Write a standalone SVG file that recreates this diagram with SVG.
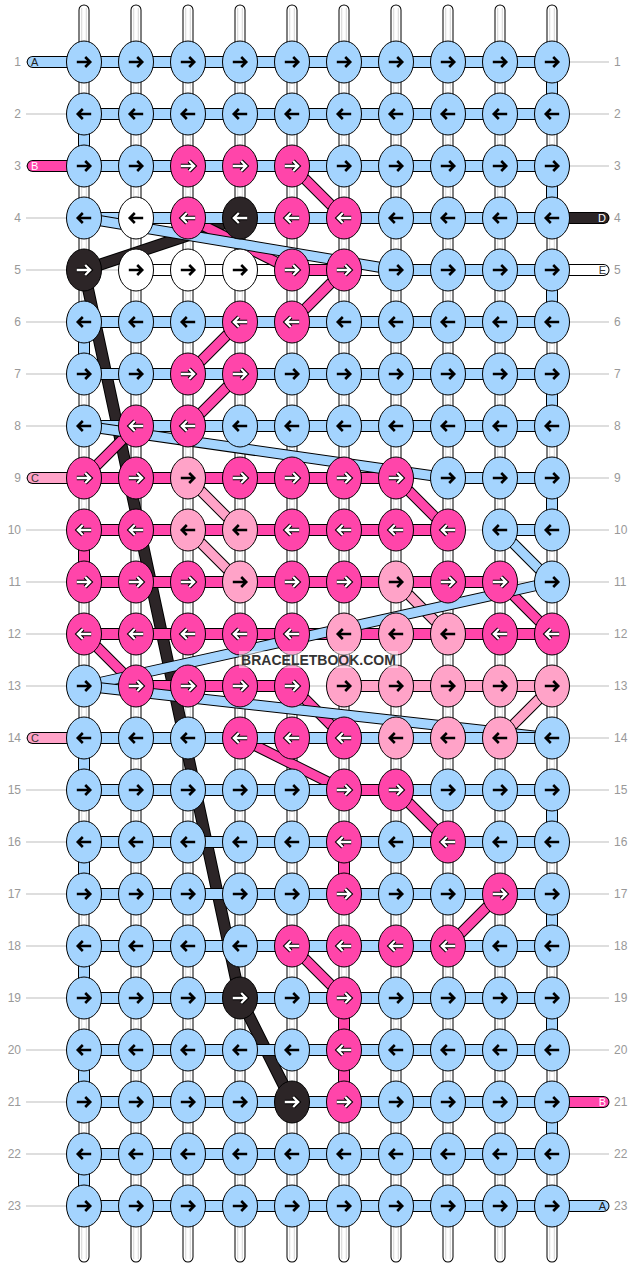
<svg xmlns="http://www.w3.org/2000/svg" xmlns:xlink="http://www.w3.org/1999/xlink" width="636" height="1268" viewBox="0 0 636 1268">
<style>
.gl{fill:none;stroke:#bdbdbd;stroke-width:1}
.w1{fill:none;stroke:#000;stroke-width:11;stroke-linecap:round}
.w2{fill:none;stroke:#fff;stroke-width:9;stroke-linecap:round}
.w3{fill:none;stroke:#d2d2d2;stroke-width:5.4}
.w4{fill:none;stroke:#fff;stroke-width:3.6}
.t{fill:none;stroke-linecap:round;stroke-linejoin:round}
.o{stroke:#000;stroke-width:12}
.cA{stroke:#A4D4FE;stroke-width:10}
.cB{stroke:#FF45AA;stroke-width:10}
.cC{stroke:#FFA3C8;stroke-width:10}
.cD{stroke:#2C2527;stroke-width:10}
.cE{stroke:#fff;stroke-width:10}
.o.dg{stroke-width:11}
.dg.cA,.dg.cB,.dg.cC{stroke-width:9}
.kb{fill:#A4D4FE;stroke:#000;stroke-width:1}
.kp{fill:#FF45AA;stroke:#000;stroke-width:1}
.kl{fill:#FFA3C8;stroke:#000;stroke-width:1}
.kw{fill:#fff;stroke:#000;stroke-width:1}
.kd{fill:#2C2527;stroke:#000;stroke-width:1}
.ak{fill:none;stroke:#000;stroke-width:2.6}
.ao{fill:none;stroke:#000;stroke-width:4.4}
.aw{fill:none;stroke:#fff;stroke-width:2.3}
.n{font-family:"Liberation Sans",Arial,sans-serif;font-size:12px;fill:#999}
.sl{font-family:"Liberation Sans",Arial,sans-serif;font-size:11px}
</style>
<defs>
<path id="ar" fill="none" d="M-7.2 0H5.5M1.2-5L6.2 0 1.2 5"/>
<ellipse id="el" rx="17.5" ry="21"/>
<g id="bR"><use href="#el" class="kb"/><use href="#ar" class="ak"/></g>
<g id="bL"><use href="#el" class="kb"/><use href="#ar" class="ak" transform="scale(-1 1)"/></g>
<g id="wR"><use href="#el" class="kw"/><use href="#ar" class="ak"/></g>
<g id="wL"><use href="#el" class="kw"/><use href="#ar" class="ak" transform="scale(-1 1)"/></g>
<g id="lR"><use href="#el" class="kl"/><use href="#ar" class="ak"/></g>
<g id="lL"><use href="#el" class="kl"/><use href="#ar" class="ak" transform="scale(-1 1)"/></g>
<g id="pR"><use href="#el" class="kp"/><use href="#ar" class="ao"/><use href="#ar" class="aw"/></g>
<g id="pL"><use href="#el" class="kp"/><g transform="scale(-1 1)"><use href="#ar" class="ao"/><use href="#ar" class="aw"/></g></g>
<g id="dR"><use href="#el" class="kd"/><use href="#ar" class="ao"/><use href="#ar" class="aw"/></g>
<g id="dL"><use href="#el" class="kd"/><g transform="scale(-1 1)"><use href="#ar" class="ao"/><use href="#ar" class="aw"/></g></g>
</defs>
<rect width="636" height="1268" fill="#fff"/>
<g id="guides">
<path class="gl" d="M26 62H609M26 114H609M26 166H609M26 218H609M26 270H609M26 322H609M26 374H609M26 426H609M26 478H609M26 530H609M26 582H609M26 634H609M26 686H609M26 738H609M26 790H609M26 842H609M26 894H609M26 946H609M26 998H609M26 1050H609M26 1102H609M26 1154H609M26 1206H609"/>
</g>
<g id="warp">
<path class="w1" d="M84 10V1257M136 10V1257M188 10V1257M240 10V1257M292 10V1257M344 10V1257M396 10V1257M448 10V1257M500 10V1257M552 10V1257"/>
<path class="w2" d="M84 10V1257M136 10V1257M188 10V1257M240 10V1257M292 10V1257M344 10V1257M396 10V1257M448 10V1257M500 10V1257M552 10V1257"/>
<path class="w3" d="M84 8V1259M136 8V1259M188 8V1259M240 8V1259M292 8V1259M344 8V1259M396 8V1259M448 8V1259M500 8V1259M552 8V1259"/>
<path class="w4" d="M84 6V1261M136 6V1261M188 6V1261M240 6V1261M292 6V1261M344 6V1261M396 6V1261M448 6V1261M500 6V1261M552 6V1261"/>
</g>
<g id="connectors">
<g id="threadE">
<path class="t o" d="M136 270H603.5"/><path class="t cE" d="M136 270H603.5"/>
</g>
<g id="threadD">
<path class="t o" d="M603.5 218H240"/><path class="t cD" d="M603.5 218H240"/>
<path class="t o" d="M240 218L84 270L240 998L292 1102"/><path class="t cD" d="M240 218L84 270L240 998L292 1102"/>
</g>
<g id="threadC">
<path class="t o" d="M32.7 478H188"/><path class="t cC" d="M32.7 478H188"/>
<path class="t o dg" d="M188 478L240 530"/><path class="t cC dg" d="M188 478L240 530"/>
<path class="t o" d="M240 530H188"/><path class="t cC" d="M240 530H188"/>
<path class="t o dg" d="M188 530L240 582"/><path class="t cC dg" d="M188 530L240 582"/>
<path class="t o" d="M240 582H396"/><path class="t cC" d="M240 582H396"/>
<path class="t o dg" d="M396 582L448 634"/><path class="t cC dg" d="M396 582L448 634"/>
<path class="t o" d="M448 634H344V686H552"/><path class="t cC" d="M448 634H344V686H552"/>
<path class="t o dg" d="M552 686L500 738"/><path class="t cC dg" d="M552 686L500 738"/>
<path class="t o" d="M500 738H32.7"/><path class="t cC" d="M500 738H32.7"/>
</g>
<g id="threadB">
<path class="t o" d="M32.7 166H292"/><path class="t cB" d="M32.7 166H292"/>
<path class="t o dg" d="M292 166L344 218"/><path class="t cB dg" d="M292 166L344 218"/>
<path class="t o" d="M344 218H188"/><path class="t cB" d="M344 218H188"/>
<path class="t o dg" d="M188 218L292 270"/><path class="t cB dg" d="M188 218L292 270"/>
<path class="t o" d="M292 270H344"/><path class="t cB" d="M292 270H344"/>
<path class="t o dg" d="M344 270L292 322"/><path class="t cB dg" d="M344 270L292 322"/>
<path class="t o" d="M292 322H240"/><path class="t cB" d="M292 322H240"/>
<path class="t o dg" d="M240 322L188 374"/><path class="t cB dg" d="M240 322L188 374"/>
<path class="t o" d="M188 374H240"/><path class="t cB" d="M188 374H240"/>
<path class="t o dg" d="M240 374L188 426"/><path class="t cB dg" d="M240 374L188 426"/>
<path class="t o" d="M188 426H136"/><path class="t cB" d="M188 426H136"/>
<path class="t o dg" d="M136 426L84 478"/><path class="t cB dg" d="M136 426L84 478"/>
<path class="t o" d="M84 478H396"/><path class="t cB" d="M84 478H396"/>
<path class="t o dg" d="M396 478L448 530"/><path class="t cB dg" d="M396 478L448 530"/>
<path class="t o" d="M448 530H84V582H500"/><path class="t cB" d="M448 530H84V582H500"/>
<path class="t o dg" d="M500 582L552 634"/><path class="t cB dg" d="M500 582L552 634"/>
<path class="t o" d="M552 634H84"/><path class="t cB" d="M552 634H84"/>
<path class="t o dg" d="M84 634L136 686"/><path class="t cB dg" d="M84 634L136 686"/>
<path class="t o" d="M136 686H292"/><path class="t cB" d="M136 686H292"/>
<path class="t o dg" d="M292 686L344 738"/><path class="t cB dg" d="M292 686L344 738"/>
<path class="t o" d="M344 738H240"/><path class="t cB" d="M344 738H240"/>
<path class="t o dg" d="M240 738L344 790"/><path class="t cB dg" d="M240 738L344 790"/>
<path class="t o dg" d="M396 790L448 842"/><path class="t cB dg" d="M396 790L448 842"/>
<path class="t o" d="M448 842H344V894H500"/><path class="t cB" d="M448 842H344V894H500"/>
<path class="t o dg" d="M500 894L448 946"/><path class="t cB dg" d="M500 894L448 946"/>
<path class="t o" d="M448 946H292"/><path class="t cB" d="M448 946H292"/>
<path class="t o dg" d="M292 946L344 998"/><path class="t cB dg" d="M292 946L344 998"/>
<path class="t o" d="M344 998V1102H603.5"/><path class="t cB" d="M344 998V1102H603.5"/>
</g>
<g id="threadA">
<path class="t o" d="M32.7 62H552V114H84V166H552V218H84"/><path class="t cA" d="M32.7 62H552V114H84V166H552V218H84"/>
<path class="t o dg" d="M84 218L396 270"/><path class="t cA dg" d="M84 218L396 270"/>
<path class="t o" d="M396 270H552V322H84V374H552V426H84"/><path class="t cA" d="M396 270H552V322H84V374H552V426H84"/>
<path class="t o dg" d="M84 426L448 478"/><path class="t cA dg" d="M84 426L448 478"/>
<path class="t o" d="M448 478H552V530H500"/><path class="t cA" d="M448 478H552V530H500"/>
<path class="t o dg" d="M500 530L552 582"/><path class="t cA dg" d="M500 530L552 582"/>
<path class="t o dg" d="M552 582L84 686"/><path class="t cA dg" d="M552 582L84 686"/>
<path class="t o dg" d="M84 686L552 738"/><path class="t cA dg" d="M84 686L552 738"/>
<path class="t o" d="M552 738H84V790H552V842H84V894H552V946H84V998H552V1050H84V1102H552V1154H84V1206H603.5"/><path class="t cA" d="M552 738H84V790H552V842H84V894H552V946H84V998H552V1050H84V1102H552V1154H84V1206H603.5"/>
</g>
<g id="threadB-top">
<path class="t o" d="M344 790H396"/><path class="t cB" d="M344 790H396"/>
</g>
</g>
<g id="stub-labels">
<text class="sl" x="31" y="66" fill="#222">A</text>
<text class="sl" x="31" y="170" fill="#fff">B</text>
<text class="sl" x="31" y="482" fill="#333">C</text>
<text class="sl" x="31" y="742" fill="#333">C</text>
<text class="sl" x="606" y="222" fill="#fff" text-anchor="end">D</text>
<text class="sl" x="606" y="274" fill="#333" text-anchor="end">E</text>
<text class="sl" x="606" y="1106" fill="#fff" text-anchor="end">B</text>
<text class="sl" x="606" y="1210" fill="#222" text-anchor="end">A</text>
</g>
<g id="row-numbers-left" class="n" text-anchor="end">
<text x="21" y="66">1</text><text x="21" y="118">2</text><text x="21" y="170">3</text><text x="21" y="222">4</text><text x="21" y="274">5</text><text x="21" y="326">6</text><text x="21" y="378">7</text><text x="21" y="430">8</text><text x="21" y="482">9</text><text x="21" y="534">10</text><text x="21" y="586">11</text><text x="21" y="638">12</text><text x="21" y="690">13</text><text x="21" y="742">14</text><text x="21" y="794">15</text><text x="21" y="846">16</text><text x="21" y="898">17</text><text x="21" y="950">18</text><text x="21" y="1002">19</text><text x="21" y="1054">20</text><text x="21" y="1106">21</text><text x="21" y="1158">22</text><text x="21" y="1210">23</text>
</g>
<g id="row-numbers-right" class="n">
<text x="614" y="66">1</text><text x="614" y="118">2</text><text x="614" y="170">3</text><text x="614" y="222">4</text><text x="614" y="274">5</text><text x="614" y="326">6</text><text x="614" y="378">7</text><text x="614" y="430">8</text><text x="614" y="482">9</text><text x="614" y="534">10</text><text x="614" y="586">11</text><text x="614" y="638">12</text><text x="614" y="690">13</text><text x="614" y="742">14</text><text x="614" y="794">15</text><text x="614" y="846">16</text><text x="614" y="898">17</text><text x="614" y="950">18</text><text x="614" y="1002">19</text><text x="614" y="1054">20</text><text x="614" y="1106">21</text><text x="614" y="1158">22</text><text x="614" y="1210">23</text>
</g>
<g id="knots">
<g id="k1-1"><use href="#bR" x="84" y="62"/></g><g id="k1-2"><use href="#bR" x="136" y="62"/></g><g id="k1-3"><use href="#bR" x="188" y="62"/></g><g id="k1-4"><use href="#bR" x="240" y="62"/></g><g id="k1-5"><use href="#bR" x="292" y="62"/></g><g id="k1-6"><use href="#bR" x="344" y="62"/></g><g id="k1-7"><use href="#bR" x="396" y="62"/></g><g id="k1-8"><use href="#bR" x="448" y="62"/></g><g id="k1-9"><use href="#bR" x="500" y="62"/></g><g id="k1-10"><use href="#bR" x="552" y="62"/></g>
<g id="k2-1"><use href="#bL" x="84" y="114"/></g><g id="k2-2"><use href="#bL" x="136" y="114"/></g><g id="k2-3"><use href="#bL" x="188" y="114"/></g><g id="k2-4"><use href="#bL" x="240" y="114"/></g><g id="k2-5"><use href="#bL" x="292" y="114"/></g><g id="k2-6"><use href="#bL" x="344" y="114"/></g><g id="k2-7"><use href="#bL" x="396" y="114"/></g><g id="k2-8"><use href="#bL" x="448" y="114"/></g><g id="k2-9"><use href="#bL" x="500" y="114"/></g><g id="k2-10"><use href="#bL" x="552" y="114"/></g>
<g id="k3-1"><use href="#bR" x="84" y="166"/></g><g id="k3-2"><use href="#bR" x="136" y="166"/></g><g id="k3-3"><use href="#pR" x="188" y="166"/></g><g id="k3-4"><use href="#pR" x="240" y="166"/></g><g id="k3-5"><use href="#pR" x="292" y="166"/></g><g id="k3-6"><use href="#bR" x="344" y="166"/></g><g id="k3-7"><use href="#bR" x="396" y="166"/></g><g id="k3-8"><use href="#bR" x="448" y="166"/></g><g id="k3-9"><use href="#bR" x="500" y="166"/></g><g id="k3-10"><use href="#bR" x="552" y="166"/></g>
<g id="k4-1"><use href="#bL" x="84" y="218"/></g><g id="k4-2"><use href="#wL" x="136" y="218"/></g><g id="k4-3"><use href="#pL" x="188" y="218"/></g><g id="k4-4"><use href="#dL" x="240" y="218"/></g><g id="k4-5"><use href="#pL" x="292" y="218"/></g><g id="k4-6"><use href="#pL" x="344" y="218"/></g><g id="k4-7"><use href="#bL" x="396" y="218"/></g><g id="k4-8"><use href="#bL" x="448" y="218"/></g><g id="k4-9"><use href="#bL" x="500" y="218"/></g><g id="k4-10"><use href="#bL" x="552" y="218"/></g>
<g id="k5-1"><use href="#dR" x="84" y="270"/></g><g id="k5-2"><use href="#wR" x="136" y="270"/></g><g id="k5-3"><use href="#wR" x="188" y="270"/></g><g id="k5-4"><use href="#wR" x="240" y="270"/></g><g id="k5-5"><use href="#pR" x="292" y="270"/></g><g id="k5-6"><use href="#pR" x="344" y="270"/></g><g id="k5-7"><use href="#bR" x="396" y="270"/></g><g id="k5-8"><use href="#bR" x="448" y="270"/></g><g id="k5-9"><use href="#bR" x="500" y="270"/></g><g id="k5-10"><use href="#bR" x="552" y="270"/></g>
<g id="k6-1"><use href="#bL" x="84" y="322"/></g><g id="k6-2"><use href="#bL" x="136" y="322"/></g><g id="k6-3"><use href="#bL" x="188" y="322"/></g><g id="k6-4"><use href="#pL" x="240" y="322"/></g><g id="k6-5"><use href="#pL" x="292" y="322"/></g><g id="k6-6"><use href="#bL" x="344" y="322"/></g><g id="k6-7"><use href="#bL" x="396" y="322"/></g><g id="k6-8"><use href="#bL" x="448" y="322"/></g><g id="k6-9"><use href="#bL" x="500" y="322"/></g><g id="k6-10"><use href="#bL" x="552" y="322"/></g>
<g id="k7-1"><use href="#bR" x="84" y="374"/></g><g id="k7-2"><use href="#bR" x="136" y="374"/></g><g id="k7-3"><use href="#pR" x="188" y="374"/></g><g id="k7-4"><use href="#pR" x="240" y="374"/></g><g id="k7-5"><use href="#bR" x="292" y="374"/></g><g id="k7-6"><use href="#bR" x="344" y="374"/></g><g id="k7-7"><use href="#bR" x="396" y="374"/></g><g id="k7-8"><use href="#bR" x="448" y="374"/></g><g id="k7-9"><use href="#bR" x="500" y="374"/></g><g id="k7-10"><use href="#bR" x="552" y="374"/></g>
<g id="k8-1"><use href="#bL" x="84" y="426"/></g><g id="k8-2"><use href="#pL" x="136" y="426"/></g><g id="k8-3"><use href="#pL" x="188" y="426"/></g><g id="k8-4"><use href="#bL" x="240" y="426"/></g><g id="k8-5"><use href="#bL" x="292" y="426"/></g><g id="k8-6"><use href="#bL" x="344" y="426"/></g><g id="k8-7"><use href="#bL" x="396" y="426"/></g><g id="k8-8"><use href="#bL" x="448" y="426"/></g><g id="k8-9"><use href="#bL" x="500" y="426"/></g><g id="k8-10"><use href="#bL" x="552" y="426"/></g>
<g id="k9-1"><use href="#pR" x="84" y="478"/></g><g id="k9-2"><use href="#pR" x="136" y="478"/></g><g id="k9-3"><use href="#lR" x="188" y="478"/></g><g id="k9-4"><use href="#pR" x="240" y="478"/></g><g id="k9-5"><use href="#pR" x="292" y="478"/></g><g id="k9-6"><use href="#pR" x="344" y="478"/></g><g id="k9-7"><use href="#pR" x="396" y="478"/></g><g id="k9-8"><use href="#bR" x="448" y="478"/></g><g id="k9-9"><use href="#bR" x="500" y="478"/></g><g id="k9-10"><use href="#bR" x="552" y="478"/></g>
<g id="k10-1"><use href="#pL" x="84" y="530"/></g><g id="k10-2"><use href="#pL" x="136" y="530"/></g><g id="k10-3"><use href="#lL" x="188" y="530"/></g><g id="k10-4"><use href="#lL" x="240" y="530"/></g><g id="k10-5"><use href="#pL" x="292" y="530"/></g><g id="k10-6"><use href="#pL" x="344" y="530"/></g><g id="k10-7"><use href="#pL" x="396" y="530"/></g><g id="k10-8"><use href="#pL" x="448" y="530"/></g><g id="k10-9"><use href="#bL" x="500" y="530"/></g><g id="k10-10"><use href="#bL" x="552" y="530"/></g>
<g id="k11-1"><use href="#pR" x="84" y="582"/></g><g id="k11-2"><use href="#pR" x="136" y="582"/></g><g id="k11-3"><use href="#pR" x="188" y="582"/></g><g id="k11-4"><use href="#lR" x="240" y="582"/></g><g id="k11-5"><use href="#pR" x="292" y="582"/></g><g id="k11-6"><use href="#pR" x="344" y="582"/></g><g id="k11-7"><use href="#lR" x="396" y="582"/></g><g id="k11-8"><use href="#pR" x="448" y="582"/></g><g id="k11-9"><use href="#pR" x="500" y="582"/></g><g id="k11-10"><use href="#bR" x="552" y="582"/></g>
<g id="k12-1"><use href="#pL" x="84" y="634"/></g><g id="k12-2"><use href="#pL" x="136" y="634"/></g><g id="k12-3"><use href="#pL" x="188" y="634"/></g><g id="k12-4"><use href="#pL" x="240" y="634"/></g><g id="k12-5"><use href="#pL" x="292" y="634"/></g><g id="k12-6"><use href="#lL" x="344" y="634"/></g><g id="k12-7"><use href="#lL" x="396" y="634"/></g><g id="k12-8"><use href="#lL" x="448" y="634"/></g><g id="k12-9"><use href="#pL" x="500" y="634"/></g><g id="k12-10"><use href="#pL" x="552" y="634"/></g>
<g id="k13-1"><use href="#bR" x="84" y="686"/></g><g id="k13-2"><use href="#pR" x="136" y="686"/></g><g id="k13-3"><use href="#pR" x="188" y="686"/></g><g id="k13-4"><use href="#pR" x="240" y="686"/></g><g id="k13-5"><use href="#pR" x="292" y="686"/></g><g id="k13-6"><use href="#lR" x="344" y="686"/></g><g id="k13-7"><use href="#lR" x="396" y="686"/></g><g id="k13-8"><use href="#lR" x="448" y="686"/></g><g id="k13-9"><use href="#lR" x="500" y="686"/></g><g id="k13-10"><use href="#lR" x="552" y="686"/></g>
<g id="k14-1"><use href="#bL" x="84" y="738"/></g><g id="k14-2"><use href="#bL" x="136" y="738"/></g><g id="k14-3"><use href="#bL" x="188" y="738"/></g><g id="k14-4"><use href="#pL" x="240" y="738"/></g><g id="k14-5"><use href="#pL" x="292" y="738"/></g><g id="k14-6"><use href="#pL" x="344" y="738"/></g><g id="k14-7"><use href="#lL" x="396" y="738"/></g><g id="k14-8"><use href="#lL" x="448" y="738"/></g><g id="k14-9"><use href="#lL" x="500" y="738"/></g><g id="k14-10"><use href="#bL" x="552" y="738"/></g>
<g id="k15-1"><use href="#bR" x="84" y="790"/></g><g id="k15-2"><use href="#bR" x="136" y="790"/></g><g id="k15-3"><use href="#bR" x="188" y="790"/></g><g id="k15-4"><use href="#bR" x="240" y="790"/></g><g id="k15-5"><use href="#bR" x="292" y="790"/></g><g id="k15-6"><use href="#pR" x="344" y="790"/></g><g id="k15-7"><use href="#pR" x="396" y="790"/></g><g id="k15-8"><use href="#bR" x="448" y="790"/></g><g id="k15-9"><use href="#bR" x="500" y="790"/></g><g id="k15-10"><use href="#bR" x="552" y="790"/></g>
<g id="k16-1"><use href="#bL" x="84" y="842"/></g><g id="k16-2"><use href="#bL" x="136" y="842"/></g><g id="k16-3"><use href="#bL" x="188" y="842"/></g><g id="k16-4"><use href="#bL" x="240" y="842"/></g><g id="k16-5"><use href="#bL" x="292" y="842"/></g><g id="k16-6"><use href="#pL" x="344" y="842"/></g><g id="k16-7"><use href="#bL" x="396" y="842"/></g><g id="k16-8"><use href="#pL" x="448" y="842"/></g><g id="k16-9"><use href="#bL" x="500" y="842"/></g><g id="k16-10"><use href="#bL" x="552" y="842"/></g>
<g id="k17-1"><use href="#bR" x="84" y="894"/></g><g id="k17-2"><use href="#bR" x="136" y="894"/></g><g id="k17-3"><use href="#bR" x="188" y="894"/></g><g id="k17-4"><use href="#bR" x="240" y="894"/></g><g id="k17-5"><use href="#bR" x="292" y="894"/></g><g id="k17-6"><use href="#pR" x="344" y="894"/></g><g id="k17-7"><use href="#bR" x="396" y="894"/></g><g id="k17-8"><use href="#bR" x="448" y="894"/></g><g id="k17-9"><use href="#pR" x="500" y="894"/></g><g id="k17-10"><use href="#bR" x="552" y="894"/></g>
<g id="k18-1"><use href="#bL" x="84" y="946"/></g><g id="k18-2"><use href="#bL" x="136" y="946"/></g><g id="k18-3"><use href="#bL" x="188" y="946"/></g><g id="k18-4"><use href="#bL" x="240" y="946"/></g><g id="k18-5"><use href="#pL" x="292" y="946"/></g><g id="k18-6"><use href="#pL" x="344" y="946"/></g><g id="k18-7"><use href="#pL" x="396" y="946"/></g><g id="k18-8"><use href="#pL" x="448" y="946"/></g><g id="k18-9"><use href="#bL" x="500" y="946"/></g><g id="k18-10"><use href="#bL" x="552" y="946"/></g>
<g id="k19-1"><use href="#bR" x="84" y="998"/></g><g id="k19-2"><use href="#bR" x="136" y="998"/></g><g id="k19-3"><use href="#bR" x="188" y="998"/></g><g id="k19-4"><use href="#dR" x="240" y="998"/></g><g id="k19-5"><use href="#bR" x="292" y="998"/></g><g id="k19-6"><use href="#pR" x="344" y="998"/></g><g id="k19-7"><use href="#bR" x="396" y="998"/></g><g id="k19-8"><use href="#bR" x="448" y="998"/></g><g id="k19-9"><use href="#bR" x="500" y="998"/></g><g id="k19-10"><use href="#bR" x="552" y="998"/></g>
<g id="k20-1"><use href="#bL" x="84" y="1050"/></g><g id="k20-2"><use href="#bL" x="136" y="1050"/></g><g id="k20-3"><use href="#bL" x="188" y="1050"/></g><g id="k20-4"><use href="#bL" x="240" y="1050"/></g><g id="k20-5"><use href="#bL" x="292" y="1050"/></g><g id="k20-6"><use href="#pL" x="344" y="1050"/></g><g id="k20-7"><use href="#bL" x="396" y="1050"/></g><g id="k20-8"><use href="#bL" x="448" y="1050"/></g><g id="k20-9"><use href="#bL" x="500" y="1050"/></g><g id="k20-10"><use href="#bL" x="552" y="1050"/></g>
<g id="k21-1"><use href="#bR" x="84" y="1102"/></g><g id="k21-2"><use href="#bR" x="136" y="1102"/></g><g id="k21-3"><use href="#bR" x="188" y="1102"/></g><g id="k21-4"><use href="#bR" x="240" y="1102"/></g><g id="k21-5"><use href="#dR" x="292" y="1102"/></g><g id="k21-6"><use href="#pR" x="344" y="1102"/></g><g id="k21-7"><use href="#bR" x="396" y="1102"/></g><g id="k21-8"><use href="#bR" x="448" y="1102"/></g><g id="k21-9"><use href="#bR" x="500" y="1102"/></g><g id="k21-10"><use href="#bR" x="552" y="1102"/></g>
<g id="k22-1"><use href="#bL" x="84" y="1154"/></g><g id="k22-2"><use href="#bL" x="136" y="1154"/></g><g id="k22-3"><use href="#bL" x="188" y="1154"/></g><g id="k22-4"><use href="#bL" x="240" y="1154"/></g><g id="k22-5"><use href="#bL" x="292" y="1154"/></g><g id="k22-6"><use href="#bL" x="344" y="1154"/></g><g id="k22-7"><use href="#bL" x="396" y="1154"/></g><g id="k22-8"><use href="#bL" x="448" y="1154"/></g><g id="k22-9"><use href="#bL" x="500" y="1154"/></g><g id="k22-10"><use href="#bL" x="552" y="1154"/></g>
<g id="k23-1"><use href="#bR" x="84" y="1206"/></g><g id="k23-2"><use href="#bR" x="136" y="1206"/></g><g id="k23-3"><use href="#bR" x="188" y="1206"/></g><g id="k23-4"><use href="#bR" x="240" y="1206"/></g><g id="k23-5"><use href="#bR" x="292" y="1206"/></g><g id="k23-6"><use href="#bR" x="344" y="1206"/></g><g id="k23-7"><use href="#bR" x="396" y="1206"/></g><g id="k23-8"><use href="#bR" x="448" y="1206"/></g><g id="k23-9"><use href="#bR" x="500" y="1206"/></g><g id="k23-10"><use href="#bR" x="552" y="1206"/></g>
</g>
<g id="watermark">
<rect x="239" y="651" width="159" height="17" fill="#fff" fill-opacity="0.5"/>
<text x="318.5" y="665" text-anchor="middle" font-family="'Liberation Sans',Arial,sans-serif" font-size="14" font-weight="bold" fill="#333">BRACELETBOOK.COM</text>
</g>
</svg>
